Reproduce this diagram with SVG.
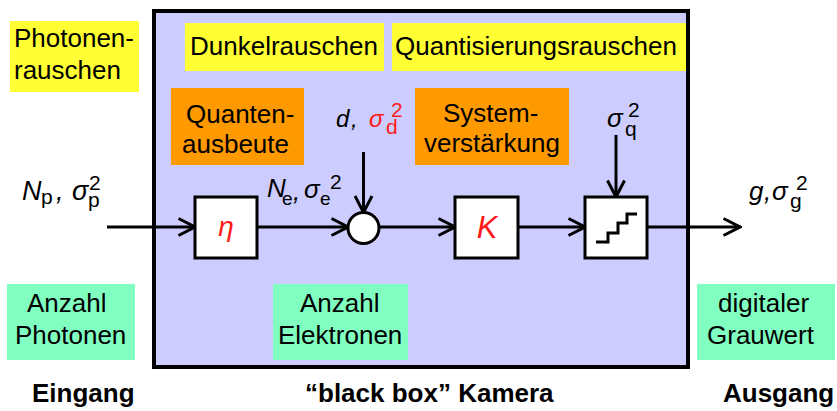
<svg xmlns="http://www.w3.org/2000/svg" width="837" height="411" viewBox="0 0 837 411">
<defs>
<marker id="arr" viewBox="0 0 20 20" refX="18" refY="10" markerWidth="20" markerHeight="20" markerUnits="userSpaceOnUse" orient="auto">
<path d="M1.5,1.5 L18,10 L1.5,18.5" fill="none" stroke="#000" stroke-width="3"/>
</marker>
</defs>
<style>
text{font-family:"Liberation Sans",Arial,sans-serif;fill:#000}
.t{font-size:26px}
.b{font-size:26px;font-weight:bold}
.f{font-size:27px}
.i{font-style:italic}
.s{font-size:21px;font-style:normal}
.r{fill:#ff1a1a}
.yel{fill:#ffff33}
.org{fill:#ff9900}
.grn{fill:#80ffc0}
.blk{fill:#fff;stroke:#000;stroke-width:3}
.ln{fill:none;stroke:#000;stroke-width:3}
</style>
<g id="camera">
<rect x="154" y="11" width="534" height="356" fill="#ccccff" stroke="#000" stroke-width="4"/>
</g>
<g id="photonenrauschen">
<rect class="yel" x="10" y="21" width="129" height="71"/>
<text class="t" x="14" y="47">Photonen-</text>
<text class="t" x="14" y="79">rauschen</text>
</g>
<g id="dunkelrauschen">
<rect class="yel" x="185" y="23" width="199" height="48"/>
<text class="t" x="190" y="55">Dunkelrauschen</text>
</g>
<g id="quantisierungsrauschen">
<rect class="yel" x="392" y="23" width="294" height="48"/>
<text class="t" x="395" y="55">Quantisierungsrauschen</text>
</g>
<g id="quantenausbeute">
<rect class="org" x="171" y="88" width="133" height="77"/>
<text class="t" x="186" y="123">Quanten-</text>
<text class="t" x="182" y="153">ausbeute</text>
</g>
<g id="systemverstaerkung">
<rect class="org" x="415" y="88" width="154" height="77"/>
<text class="t" x="443" y="122">System-</text>
<text class="t" x="424" y="152">verstärkung</text>
</g>
<g id="anzahl-photonen">
<rect class="grn" x="7" y="284" width="128" height="76"/>
<text class="t" x="27" y="312">Anzahl</text>
<text class="t" x="15" y="344">Photonen</text>
</g>
<g id="anzahl-elektronen">
<rect class="grn" x="273" y="284" width="135" height="76"/>
<text class="t" x="300" y="312">Anzahl</text>
<text class="t" x="278" y="344">Elektronen</text>
</g>
<g id="digitaler-grauwert">
<rect class="grn" x="697" y="284" width="138" height="76"/>
<text class="t" x="718" y="312">digitaler</text>
<text class="t" x="707" y="344">Grauwert</text>
</g>
<g id="connectors">
<path class="ln" d="M107,227 H195" marker-end="url(#arr)"/>
<path class="ln" d="M257,227 H348" marker-end="url(#arr)"/>
<path class="ln" d="M363.5,152 V212.5" marker-end="url(#arr)"/>
<path class="ln" d="M379,227 H455" marker-end="url(#arr)"/>
<path class="ln" d="M518,227 H585" marker-end="url(#arr)"/>
<path class="ln" d="M616,135 V197" marker-end="url(#arr)"/>
<path class="ln" d="M647,227 H740" marker-end="url(#arr)"/>
</g>
<g id="eta">
<rect class="blk" x="195" y="197" width="62" height="61"/>
<text class="i r" x="226" y="236" text-anchor="middle" font-size="28">η</text>
</g>
<g id="sum">
<circle class="blk" cx="363.5" cy="228" r="15.5"/>
</g>
<g id="K">
<rect class="blk" x="455" y="197" width="63" height="61"/>
<text class="i r" x="487" y="238" text-anchor="middle" font-size="31">K</text>
</g>
<g id="quantizer">
<rect class="blk" x="585" y="197" width="62" height="61"/>
<path class="ln" d="M596,242 H608 V233 H618 V223 H627 V214 H637"/>
</g>
<g id="labels">
<text class="f i"><tspan x="22" y="200">N</tspan><tspan class="s" x="41" y="204">p</tspan><tspan x="56" y="200">,</tspan><tspan x="72" y="200">σ</tspan><tspan class="s" x="89" y="190">2</tspan><tspan class="s" x="88" y="207">p</tspan></text>
<text class="i" font-size="26"><tspan x="267" y="197">N</tspan><tspan class="s" x="282" y="205" style="font-size:19px">e</tspan><tspan x="293" y="200">,</tspan><tspan x="304" y="198">σ</tspan><tspan class="s" x="330" y="189">2</tspan><tspan class="s" x="320" y="205" style="font-size:19px">e</tspan></text>
<text class="i" font-size="24"><tspan x="336" y="127">d</tspan><tspan x="351" y="127">,</tspan><tspan class="r" x="369" y="127">σ</tspan><tspan class="s r" x="391" y="117">2</tspan><tspan class="s r" x="386" y="134">d</tspan></text>
<text class="i" font-size="26"><tspan x="607" y="127">σ</tspan><tspan class="s" x="628" y="117">2</tspan><tspan class="s" x="625" y="136">q</tspan></text>
<text class="i" font-size="26"><tspan x="749" y="200">g</tspan><tspan x="764" y="200">,</tspan><tspan x="772" y="200">σ</tspan><tspan class="s" x="796" y="190">2</tspan><tspan class="s" x="790" y="208">g</tspan></text>
</g>
<g id="captions">
<text class="b" x="32" y="402">Eingang</text>
<text class="b" x="305" y="402">“black box” Kamera</text>
<text class="b" x="723" y="402">Ausgang</text>
</g>
</svg>
